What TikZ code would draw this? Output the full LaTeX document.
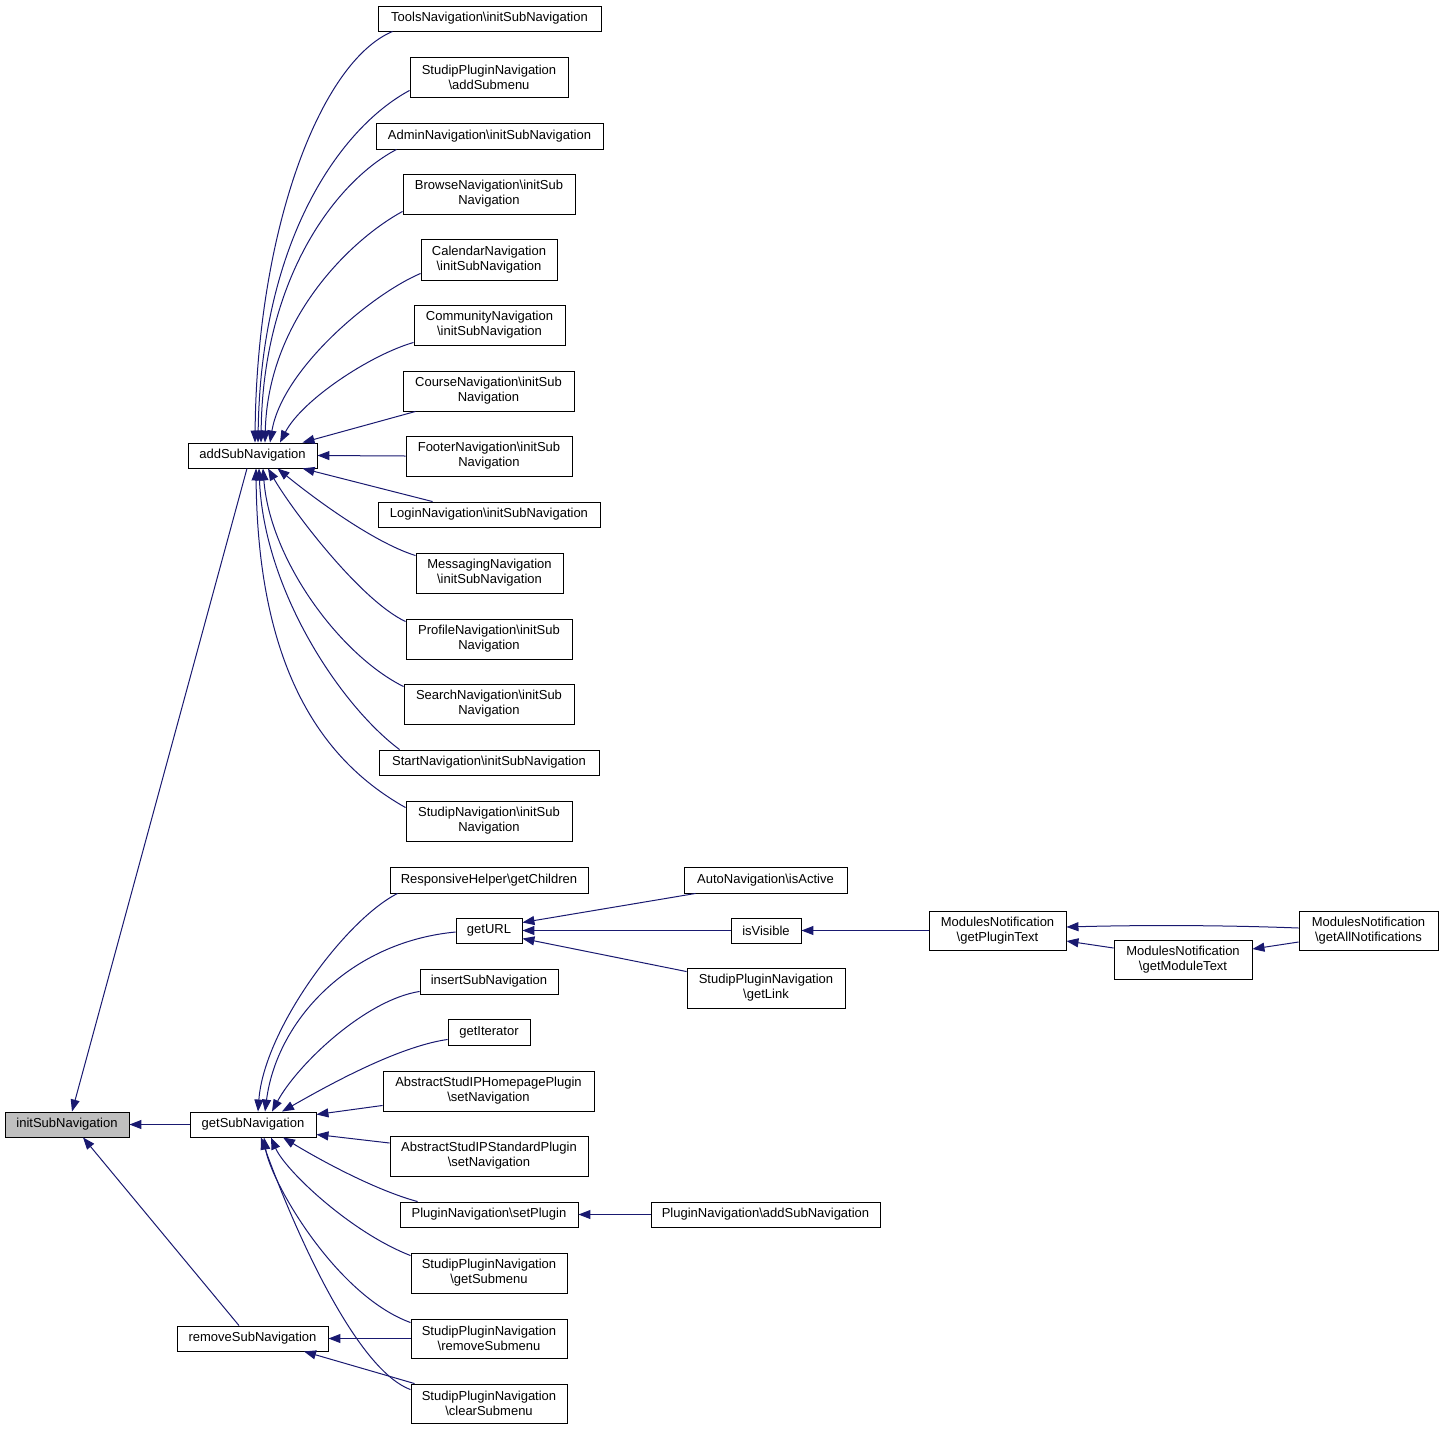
\documentclass[tikz,border=0pt]{standalone}
\usepackage{fontspec}
\setmainfont{Liberation Sans}
\usetikzlibrary{arrows.meta,calc}
\definecolor{mblue}{HTML}{191970}
\newcommand\bsl{\textbackslash}
\newcommand\mybox[7][]{\node[box,#1,minimum width={(#5-#3)*1pt},minimum height={(#6-#4)*1pt}] (#2) at ({(#3+#5)/2},{(#4+#6)/2}) {#7};}
\tikzset{
  box/.style={draw=black, line width=0.9pt, fill=white, inner sep=0pt, align=center, font=\fontsize{13}{15}\selectfont},
  edge/.style={draw=mblue, line width=1pt, -{Triangle[length=12pt,width=9pt]}, mblue}
}
\begin{document}
\begin{tikzpicture}[x=1pt,y=-1pt]
\useasboundingbox (0,0) rectangle (1443,1430);
% right column (addSubNavigation callers)
\mybox{tools}{378}{6}{601}{31}{ToolsNavigation\bsl initSubNavigation}
\mybox{addsubmenu}{410}{57}{568}{97}{StudipPluginNavigation\\\bsl addSubmenu}
\mybox{admin}{376}{123}{603}{149}{AdminNavigation\bsl initSubNavigation}
\mybox{browse}{403}{174}{575}{214}{BrowseNavigation\bsl initSub\\Navigation}
\mybox{calendar}{421}{239}{557}{280}{CalendarNavigation\\\bsl initSubNavigation}
\mybox{community}{414}{305}{565}{345}{CommunityNavigation\\\bsl initSubNavigation}
\mybox{course}{403}{371}{574}{411}{CourseNavigation\bsl initSub\\Navigation}
\mybox{footer}{406}{436}{572}{476}{FooterNavigation\bsl initSub\\Navigation}
\mybox{login}{378}{502}{600}{527}{LoginNavigation\bsl initSubNavigation}
\mybox{messaging}{416}{553}{563}{593}{MessagingNavigation\\\bsl initSubNavigation}
\mybox{profile}{406}{619}{572}{659}{ProfileNavigation\bsl initSub\\Navigation}
\mybox{search}{404}{684}{574}{724}{SearchNavigation\bsl initSub\\Navigation}
\mybox{start}{379}{750}{599}{775}{StartNavigation\bsl initSubNavigation}
\mybox{studipnav}{406}{801}{572}{841}{StudipNavigation\bsl initSub\\Navigation}
% left
\mybox{add}{188}{443}{317}{468}{addSubNavigation}
\mybox[fill=gray!50]{init}{5}{1112}{129}{1137}{initSubNavigation}
\mybox{getsub}{190}{1112}{316}{1137}{getSubNavigation}
\mybox{removesub}{177}{1326}{328}{1351}{removeSubNavigation}
% getSubNavigation callers
\mybox{responsive}{390}{867}{588}{893}{ResponsiveHelper\bsl getChildren}
\mybox{geturl}{456}{918}{522}{943}{getURL}
\mybox{insert}{420}{969}{558}{994}{insertSubNavigation}
\mybox{iterator}{448}{1019}{530}{1045}{getIterator}
\mybox{homepage}{383}{1071}{594}{1111}{AbstractStudIPHomepagePlugin\\\bsl setNavigation}
\mybox{standard}{390}{1136}{588}{1176}{AbstractStudIPStandardPlugin\\\bsl setNavigation}
\mybox{setplugin}{400}{1202}{578}{1227}{PluginNavigation\bsl setPlugin}
\mybox{getsubmenu}{411}{1253}{567}{1293}{StudipPluginNavigation\\\bsl getSubmenu}
\mybox{removesubmenu}{411}{1319}{567}{1358}{StudipPluginNavigation\\\bsl removeSubmenu}
\mybox{clearsubmenu}{411}{1384}{567}{1423}{StudipPluginNavigation\\\bsl clearSubmenu}
% further columns
\mybox{autonav}{684}{867}{847}{893}{AutoNavigation\bsl isActive}
\mybox{isvisible}{731}{918}{801}{943}{isVisible}
\mybox{getlink}{687}{968}{845}{1008}{StudipPluginNavigation\\\bsl getLink}
\mybox{pluginadd}{651}{1202}{880}{1227}{PluginNavigation\bsl addSubNavigation}
\mybox{plugintext}{929}{911}{1066}{950}{ModulesNotification\\\bsl getPluginText}
\mybox{moduletext}{1114}{940}{1252}{979}{ModulesNotification\\\bsl getModuleText}
\mybox{allnotif}{1299}{911}{1438}{950}{ModulesNotification\\\bsl getAllNotifications}

% edges into addSubNavigation
\draw[edge] ($(tools.south west)+(15,0)$) .. controls (320,62) and (257,230) .. ($(add.north)+(2.5,0)$);
\draw[edge] ($(addsubmenu.south west)+(0,-7)$) .. controls (340,128) and (261,240) .. ($(add.north)+(5.5,0)$);
\draw[edge] ($(admin.south west)+(21,0)$) .. controls (338,180) and (263,275) .. ($(add.north)+(8.5,0)$);
\draw[edge] ($(browse.south west)+(0,-3)$) .. controls (350,240) and (268,320) .. ($(add.north)+(12.5,0)$);
\draw[edge] ($(calendar.south west)+(0,-7)$) .. controls (370,295) and (282,370) .. ($(add.north)+(17.5,0)$);
\draw[edge] ($(community.south west)+(0,-3)$) .. controls (370,355) and (302,400) .. ($(add.north)+(27.5,0)$);
\draw[edge] ($(course.south west)+(13,0)$) -- ($(add.north)+(50,0)$);
\draw[edge] (footer.west) -- (add.east);
\draw[edge] ($(login.north west)+(55,0)$) -- ($(add.south)+(50,0)$);
\draw[edge] ($(messaging.north west)+(0,3)$) .. controls (372,542) and (310,495) .. ($(add.south)+(25,0)$);
\draw[edge] ($(profile.north west)+(0,3)$) .. controls (360,600) and (292,510) .. ($(add.south)+(15.5,0)$);
\draw[edge] ($(search.north west)+(0,3)$) .. controls (340,655) and (270,560) .. ($(add.south)+(10.5,0)$);
\draw[edge] ($(start.north west)+(21,0)$) .. controls (340,705) and (264,590) .. ($(add.south)+(6.5,0)$);
\draw[edge] ($(studipnav.north west)+(0,7)$) .. controls (330,765) and (258,680) .. ($(add.south)+(3.5,0)$);

% edges into initSubNavigation
\draw[edge] ($(add.south)+(-5.5,0)$) -- ($(init.north)+(5,0)$);
\draw[edge] (getsub.west) -- (init.east);
\draw[edge] ($(removesub.north)+(-13.5,0)$) -- ($(init.south)+(16,0)$);

% edges into getSubNavigation
\draw[edge] ($(responsive.south west)+(8,0)$) .. controls (345,920) and (264,1030) .. ($(getsub.north)+(5,0)$);
\draw[edge] ($(geturl.west)+(0,1.5)$) .. controls (350,942) and (277,1020) .. ($(getsub.north)+(12,0)$);
\draw[edge] ($(insert.south west)+(0,-3)$) .. controls (365,1000) and (297,1065) .. ($(getsub.north)+(19,0)$);
\draw[edge] ($(iterator.south west)+(0,-6)$) .. controls (395,1047) and (320,1090) .. ($(getsub.north)+(29,0)$);
\draw[edge] ($(homepage.south west)+(0,-6)$) -- ($(getsub.east)+(0,-10)$);
\draw[edge] ($(standard.west)+(0,-13)$) -- ($(getsub.east)+(0,10)$);
\draw[edge] ($(setplugin.north west)+(18,0)$) .. controls (375,1190) and (320,1160) .. ($(getsub.south)+(30,0)$);
\draw[edge] ($(getsubmenu.north west)+(0,3)$) .. controls (350,1232) and (285,1170) .. ($(getsub.south)+(18,0)$);
\draw[edge] ($(removesubmenu.north west)+(0,4)$) .. controls (335,1295) and (270,1180) .. ($(getsub.south)+(11,0)$);
\draw[edge] ($(clearsubmenu.north west)+(0,6)$) .. controls (352,1368) and (287,1210) .. ($(getsub.south)+(8,0)$);

% edges into removeSubNavigation
\draw[edge] (removesubmenu.west) -- (removesub.east);
\draw[edge] ($(clearsubmenu.north west)+(4,0)$) -- ($(removesub.south)+(51.5,0)$);

% getURL callers and further
\draw[edge] ($(autonav.south west)+(12,0)$) -- ($(geturl.east)+(0,-8)$);
\draw[edge] (isvisible.west) -- (geturl.east);
\draw[edge] ($(getlink.north west)+(0,4)$) -- ($(geturl.east)+(0,8)$);
\draw[edge] (plugintext.west) -- (isvisible.east);
\draw[edge] ($(allnotif.west)+(0,-2.5)$) .. controls (1220,925) and (1140,925) .. ($(plugintext.east)+(0,-3.5)$);
\draw[edge] ($(moduletext.west)+(0,-11.5)$) -- ($(plugintext.east)+(0,10.5)$);
\draw[edge] ($(allnotif.west)+(0,11.5)$) -- ($(moduletext.east)+(0,-10.5)$);
\draw[edge] (pluginadd.west) -- (setplugin.east);
\end{tikzpicture}
\end{document}
